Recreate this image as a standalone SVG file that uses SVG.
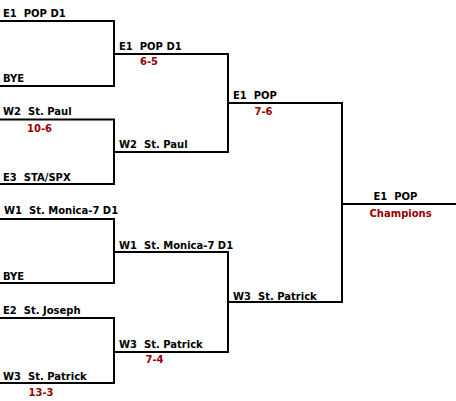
<svg xmlns="http://www.w3.org/2000/svg" width="456" height="401" viewBox="0 0 456 401">
<style>
text{font-family:"DejaVu Sans",Verdana,sans-serif;font-weight:bold;font-size:10px;fill:#000;white-space:pre}
text.s{fill:#990000}
.c{fill:none;stroke:#000;stroke-width:2}
</style>
<rect width="456" height="401" fill="#fff"/>
<g id="connectors">
<path class="c" d="M0 21H114V86H0"/>
<path class="c" d="M0 119.5H114V184H0"/>
<path class="c" d="M0 219H114V283H0"/>
<path class="c" d="M0 318H114V383H0"/>
<path class="c" d="M114 54H228V152H114"/>
<path class="c" d="M114 252H228V352H114"/>
<path class="c" d="M228 103H342V302H228"/>
<path class="c" d="M342 204H456"/>
</g>
<g id="r1-1"><text x="3" y="16.5">E1  POP D1</text></g>
<g id="r1-2"><text x="3" y="82">BYE</text></g>
<g id="r1-3"><text x="3" y="115">W2  St. Paul</text><text class="s" x="27" y="131.5">10-6</text></g>
<g id="r1-4"><text x="3" y="181">E3  STA/SPX</text></g>
<g id="r1-5"><text x="4" y="214">W1  St. Monica-7 D1</text></g>
<g id="r1-6"><text x="3" y="280">BYE</text></g>
<g id="r1-7"><text x="3" y="314">E2  St. Joseph</text></g>
<g id="r1-8"><text x="3" y="380">W3  St. Patrick</text><text class="s" x="28.5" y="395.5">13-3</text></g>
<g id="r2-1"><text x="119" y="49.5">E1  POP D1</text><text class="s" x="140" y="65">6-5</text></g>
<g id="r2-2"><text x="119" y="147.5">W2  St. Paul</text></g>
<g id="r2-3"><text x="119" y="249">W1  St. Monica-7 D1</text></g>
<g id="r2-4"><text x="119" y="347.5">W3  St. Patrick</text><text class="s" x="145.5" y="363">7-4</text></g>
<g id="r3-1"><text x="233" y="99">E1  POP</text><text class="s" x="254.5" y="114.5">7-6</text></g>
<g id="r3-2"><text x="233" y="300">W3  St. Patrick</text></g>
<g id="champ"><text x="373.5" y="200">E1  POP</text><text class="s" x="369.5" y="217">Champions</text></g>
</svg>
